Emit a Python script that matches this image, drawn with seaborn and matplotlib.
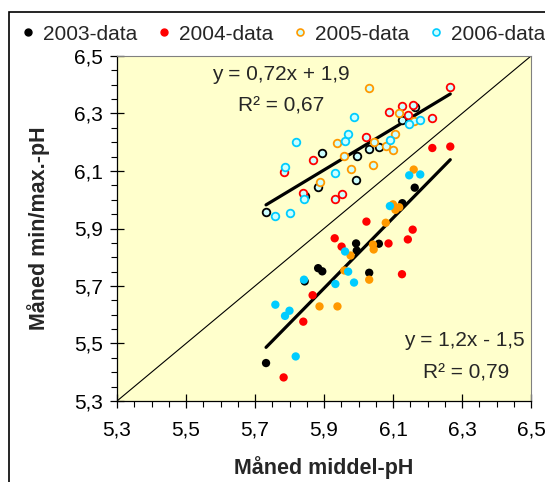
import numpy as np
import pandas as pd
import seaborn as sns
import matplotlib.pyplot as plt
from matplotlib.lines import Line2D
from matplotlib.patches import Rectangle
from matplotlib.ticker import MultipleLocator, FuncFormatter

# monthly mean pH (x) and monthly max (open) / min (filled) pH per year
mid_2003 = [5.732, 5.844, 5.883, 5.895, 5.993, 5.995, 6.031, 6.059, 6.127, 6.163]
max_2003 = [5.958, 6.013, 6.044, 6.161, 6.070, 6.151, 6.176, 6.184, 6.277, 6.323]
min_2003 = [5.432, 5.716, 5.762, 5.751, 5.848, 5.823, 5.746, 5.847, 5.988, 6.042]

mid_2004 = [5.783, 5.840, 5.867, 5.931, 5.951, 6.023, 6.087, 6.126, 6.143, 6.157, 6.214, 6.266]
max_2004 = [6.096, 6.023, 6.137, 6.003, 6.021, 6.219, 6.306, 6.327, 6.294, 6.329, 6.283, 6.393]
min_2004 = [5.382, 5.576, 5.668, 5.866, 5.837, 5.924, 5.848, 5.741, 5.862, 5.896, 6.180, 6.185]

mid_2005 = [5.887, 5.939, 5.959, 5.977, 6.031, 6.042, 6.044, 6.079, 6.100, 6.107, 6.118, 6.160]
max_2005 = [6.062, 6.198, 6.152, 6.108, 6.389, 6.122, 6.201, 6.186, 6.172, 6.230, 6.302, 6.275]
min_2005 = [5.629, 5.629, 5.754, 5.806, 5.722, 5.844, 5.827, 5.920, 5.984, 5.965, 5.974, 6.105]

mid_2006 = [5.759, 5.787, 5.800, 5.818, 5.842, 5.933, 5.961, 5.970, 5.987, 6.091, 6.147, 6.179]
max_2006 = [5.944, 6.114, 5.953, 6.201, 6.001, 6.093, 6.205, 6.230, 6.287, 6.209, 6.263, 6.277]
min_2006 = [5.635, 5.596, 5.614, 5.455, 5.722, 5.707, 5.820, 5.750, 5.712, 5.978, 6.085, 6.088]

years = ["2003", "2004", "2005", "2006"]
colors = ["#000000", "#ff0000", "#ff9900", "#00ccff"]
labels = ["2003-data", "2004-data", "2005-data", "2006-data"]
eq_high = ["y = 0,72x + 1,9", "R² = 0,67"]
eq_low = ["y = 1,2x - 1,5", "R² = 0,79"]

mids = [mid_2003, mid_2004, mid_2005, mid_2006]
highs = [max_2003, max_2004, max_2005, max_2006]
lows = [min_2003, min_2004, min_2005, min_2006]

frames = []
for yr, m, hi, lo in zip(years, mids, highs, lows):
    frames.append(pd.DataFrame({"Year": yr, "mid": m, "high": hi, "low": lo}))
df = pd.concat(frames, ignore_index=True)

sns.set_style("ticks")
plt.rcParams["font.family"] = ["Liberation Sans", "DejaVu Sans"]

fig = plt.figure(figsize=(5.45, 4.82), dpi=100)
ax = fig.add_axes([117 / 545, 1 - 401 / 482, 414 / 545, 345 / 482])
ax.set_facecolor("#ffffcc")

# 1:1 line
ax.axline((0, 0), slope=1, color="black", lw=0.8, zorder=1)

# trend lines
sns.regplot(data=df, x="mid", y="high", scatter=False, ci=None, truncate=True,
            color="black", line_kws={"lw": 2.3, "zorder": 2}, ax=ax)
sns.regplot(data=df, x="mid", y="low", scatter=False, ci=None, truncate=True,
            color="black", line_kws={"lw": 2.3, "zorder": 2}, ax=ax)

for yr, c in zip(years, colors):
    d = df[df["Year"] == yr]
    sns.scatterplot(data=d, x="mid", y="high", ax=ax, s=30, color=c,
                    facecolor="#ccffff", edgecolor=c, linewidth=1.3, zorder=3)
    sns.scatterplot(data=d, x="mid", y="low", ax=ax, s=36, color=c,
                    edgecolor="none", linewidth=0, zorder=3)

ax.set_xlim(5.3, 6.5)
ax.set_ylim(5.3, 6.5)
ax.xaxis.set_major_locator(MultipleLocator(0.2, offset=0.1))
ax.yaxis.set_major_locator(MultipleLocator(0.2, offset=0.1))
ax.xaxis.set_minor_locator(MultipleLocator(0.05))
ax.yaxis.set_minor_locator(MultipleLocator(0.05))
fmt = FuncFormatter(lambda v, p: f"{v:.1f}".replace(".", ","))
ax.xaxis.set_major_formatter(fmt)
ax.yaxis.set_major_formatter(fmt)
ax.tick_params(which="major", direction="inout", length=10, width=0.9,
               labelsize=15, color="black", labelcolor="black")
ax.tick_params(axis="x", which="major", pad=9)
ax.tick_params(axis="y", which="major", pad=5)
ax.tick_params(which="minor", direction="out", length=4.3, width=0.8, color="black")

for side in ["left", "bottom"]:
    ax.spines[side].set_color("black")
    ax.spines[side].set_linewidth(0.9)
for side in ["top", "right"]:
    ax.spines[side].set_color("#808080")
    ax.spines[side].set_linewidth(0.8)

ax.set_xlabel("Måned middel-pH", fontsize=15.5, fontweight="bold")
ax.set_ylabel("Måned min/max.-pH", fontsize=15.5, fontweight="bold")
ax.xaxis.set_label_coords(0.5, -0.16)
ax.yaxis.set_label_coords(-0.162, 0.5)

ax.text(5.775, 6.437, eq_high[0], fontsize=15, ha="center", va="center")
ax.text(5.775, 6.326, eq_high[1], fontsize=15, ha="center", va="center")
ax.text(6.306, 5.509, eq_low[0], fontsize=15, ha="center", va="center")
ax.text(6.312, 5.397, eq_low[1], fontsize=15, ha="center", va="center")

handles = []
for i, c in enumerate(colors):
    if i < 2:
        h = Line2D([], [], ls="none", marker="o", ms=5, color=c, mec=c)
    else:
        h = Line2D([], [], ls="none", marker="o", ms=5, mfc="#ccffff", mec=c, mew=1.2)
    handles.append(h)
fig.legend(handles, labels, loc="center", bbox_to_anchor=(284 / 545, 0.929), ncol=4,
           frameon=False, fontsize=15, handlelength=0.5, handletextpad=0.45,
           columnspacing=1.05, borderaxespad=0, borderpad=0)

fig.patches.append(Rectangle((9 / 545, -0.1), 1.2, 1.1 - 12 / 482, transform=fig.transFigure,
                             fill=False, edgecolor="black", lw=1.2, figure=fig))

fig.savefig("out.png", dpi=100)
